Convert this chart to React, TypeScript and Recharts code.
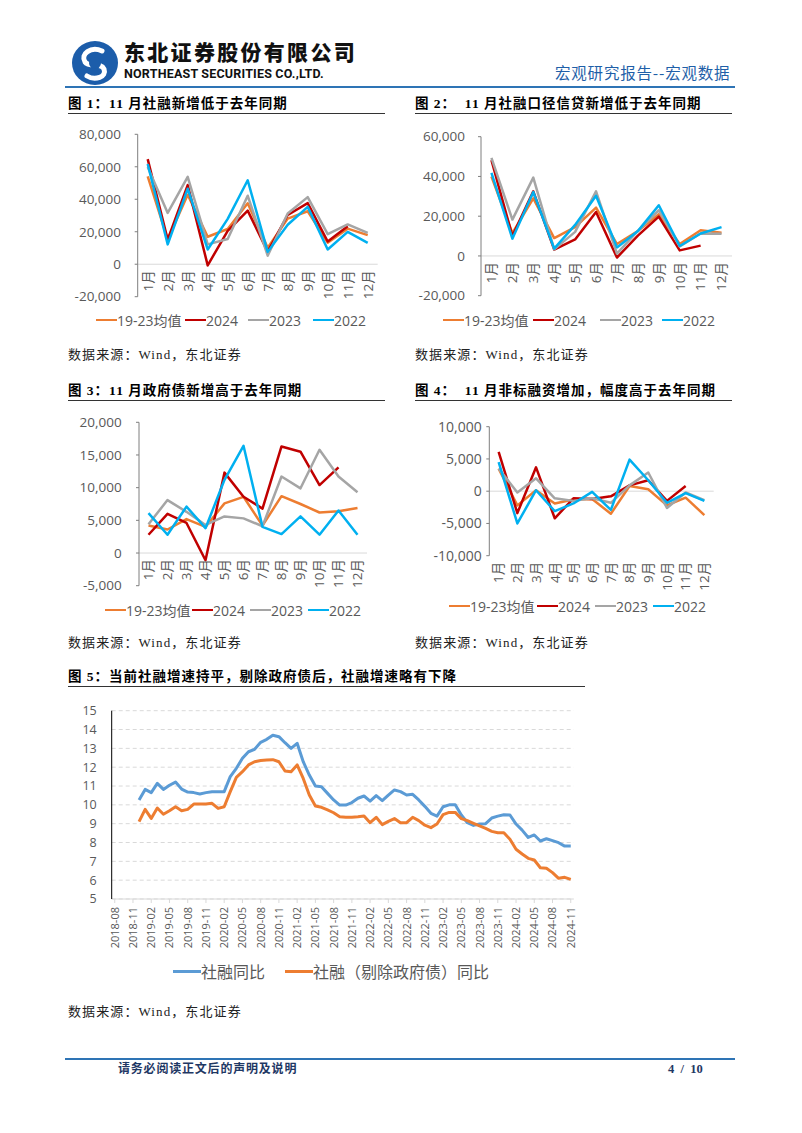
import React from "react";
import {
  LineChart,
  Line,
  XAxis,
  YAxis,
  ReferenceLine,
  ReferenceDot,
  CartesianGrid,
} from "recharts";

// ---- monthly comparison charts (fig 1-4) ----
const MONTHS = ["1月", "2月", "3月", "4月", "5月", "6月", "7月", "8月", "9月", "10月", "11月", "12月"];
const SERIES_NAMES = ["19-23均值", "2024", "2023", "2022"];
const SERIES_COLORS = ["#ED7D31", "#C00000", "#A5A5A5", "#00B0F0"];

// fig 1: 社融新增
const SF_AVG = [54100, 15300, 42800, 16900, 21700, 37500, 10100, 28100, 32600, 13300, 21900, 17900];
const SF_2024 = [64700, 15100, 48700, -700, 20600, 33000, 7700, 30300, 37600, 14000, 23400];
const SF_2023 = [59900, 31600, 53800, 12200, 15500, 42200, 5300, 31200, 41300, 18500, 24500, 19300];
const SF_2022 = [61700, 12200, 46500, 9100, 27900, 51700, 7600, 24300, 35300, 9100, 19900, 13100];

// fig 2: 社融口径信贷
const LOAN_AVG = [40000, 11500, 29000, 9000, 14500, 24300, 6000, 12500, 21000, 6000, 12900, 11700];
const LOAN_2024 = [48200, 10000, 32500, 3200, 8300, 22100, -800, 10200, 19800, 2800, 5200];
const LOAN_2023 = [49300, 18300, 39400, 3300, 12100, 32500, 1200, 12600, 23000, 4800, 11300, 11200];
const LOAN_2022 = [41800, 8700, 32200, 3700, 15600, 30300, 4300, 12500, 25500, 5000, 11300, 14500];

// fig 3: 政府债
const GOV_AVG = [4200, 3600, 5200, 4000, 7600, 8600, 4200, 8700, 7500, 6200, 6400, 6900];
const GOV_2024 = [2800, 6000, 4600, -1100, 12300, 8600, 6800, 16300, 15500, 10400, 13100];
const GOV_2023 = [4400, 8100, 6300, 4300, 5600, 5300, 4100, 11700, 9900, 15800, 11700, 9300];
const GOV_2022 = [6100, 2800, 7100, 3800, 11200, 16400, 4000, 2900, 5600, 2800, 6500, 2800];

// fig 4: 非标融资
const NS_AVG = [3500, -2200, 150, -1900, -1300, -1200, -3500, 800, 300, -2200, -1000, -3700];
const NS_2024 = [6100, -3400, 3700, -4200, -1100, -1200, -800, 900, 1700, -1500, 800];
const NS_2023 = [3500, -200, 2000, -1100, -1500, -1100, -1800, 900, 2900, -2600, -200, -1400];
const NS_2022 = [4500, -5000, 150, -3100, -1900, -100, -2900, 4900, 1700, -1800, -300, -1500];

// ---- fig 5: 社融增速 ----
const YM = [
  "2018-08", "2018-09", "2018-10", "2018-11", "2018-12",
  "2019-01", "2019-02", "2019-03", "2019-04", "2019-05", "2019-06", "2019-07", "2019-08", "2019-09", "2019-10", "2019-11", "2019-12",
  "2020-01", "2020-02", "2020-03", "2020-04", "2020-05", "2020-06", "2020-07", "2020-08", "2020-09", "2020-10", "2020-11", "2020-12",
  "2021-01", "2021-02", "2021-03", "2021-04", "2021-05", "2021-06", "2021-07", "2021-08", "2021-09", "2021-10", "2021-11", "2021-12",
  "2022-01", "2022-02", "2022-03", "2022-04", "2022-05", "2022-06", "2022-07", "2022-08", "2022-09", "2022-10", "2022-11", "2022-12",
  "2023-01", "2023-02", "2023-03", "2023-04", "2023-05", "2023-06", "2023-07", "2023-08", "2023-09", "2023-10", "2023-11", "2023-12",
  "2024-01", "2024-02", "2024-03", "2024-04", "2024-05", "2024-06", "2024-07", "2024-08", "2024-09", "2024-10", "2024-11",
];
const TSF_YOY = [
  null, null, null, null, 10.26,
  10.82, 10.65, 11.14, 10.82, 11.04, 11.21, 10.84, 10.68, 10.65, 10.58, 10.65, 10.7,
  10.7, 10.7, 11.5, 11.94, 12.47, 12.82, 12.95, 13.32, 13.48, 13.7, 13.62, 13.3,
  13.0, 13.27, 12.29, 11.58, 11.0, 10.96, 10.61, 10.26, 9.99, 9.99, 10.12, 10.35,
  10.47, 10.2, 10.49, 10.22, 10.52, 10.79, 10.7, 10.52, 10.56, 10.26, 9.92, 9.55,
  9.4, 9.9, 10.0, 10.0, 9.46, 9.05, 8.91, 8.98, 9.0, 9.3, 9.4, 9.47,
  9.46, 8.98, 8.66, 8.27, 8.4, 8.08, 8.2, 8.1, 7.99, 7.81, 7.81,
];
const TSF_EX_GOV_YOY = [
  null, null, null, null, 9.11,
  9.76, 9.28, 9.83, 9.5, 9.69, 9.9, 9.69, 9.76, 10.04, 10.04, 10.04, 10.08,
  9.81, 9.9, 10.7, 11.46, 11.76, 12.12, 12.29, 12.36, 12.38, 12.4, 12.29, 11.8,
  11.76, 12.12, 11.4, 10.52, 9.94, 9.87, 9.73, 9.58, 9.37, 9.34, 9.34, 9.37,
  9.41, 9.05, 9.34, 8.95, 9.12, 9.27, 9.05, 9.05, 9.34, 9.16, 8.92, 8.79,
  8.98, 9.48, 9.6, 9.6, 9.27, 9.16, 9.02, 8.88, 8.75, 8.59, 8.52, 8.52,
  8.17, 7.64, 7.39, 7.16, 7.07, 6.66, 6.63, 6.4, 6.1, 6.15, 6.04,
];
const Y5_TICKS = [5, 6, 7, 8, 9, 10, 11, 12, 13, 14, 15];

const AXIS_FONT = "'Open Sans', 'Noto Sans CJK SC', sans-serif";
const SERIF = "'Liberation Serif', 'Noto Sans CJK SC', serif";

type Box = { left: number; top: number; width: number; height: number };
type Plot = { l: number; t: number; r: number; b: number };

function MonthChart(props: {
  box: Box;
  plot: Plot;
  domain: [number, number];
  ticks: number[];
  data: (number | undefined)[][];
  atZero: boolean;
  gap: number;
  yFont: number;
}) {
  const { box, plot, domain, ticks, data, atZero, gap, yFont } = props;
  const rows = MONTHS.map((m, i) => {
    const row: Record<string, any> = { m };
    SERIES_NAMES.forEach((n, k) => {
      const v = data[k][i];
      row[n] = v === undefined ? null : v;
    });
    return row;
  });
  const below = box.top + box.height - plot.b;
  const half = (plot.r - plot.l) / MONTHS.length / 2;
  const margin = {
    top: plot.t - box.top,
    right: box.left + box.width - plot.r,
    bottom: atZero ? below : 0,
    left: 0,
  };
  const rot = (x: number, y: number, text: string) => (
    <text
      x={x}
      y={y}
      transform={`rotate(-90 ${x} ${y})`}
      textAnchor="end"
      dy="0.36em"
      fontSize={13.5}
      fill="#595959"
      fontFamily={AXIS_FONT}
    >
      {text}
    </text>
  );
  return (
    <div style={{ position: "absolute", left: box.left, top: box.top }}>
      <LineChart width={box.width} height={box.height} data={rows} margin={margin}>
        <XAxis
          dataKey="m"
          hide={atZero}
          height={atZero ? 0 : below}
          padding={{ left: half, right: half }}
          interval={0}
          axisLine={false}
          tickLine={false}
          tickSize={0}
          tickMargin={6}
          tick={(p: any) => rot(p.x, p.y, p.payload.value)}
        />
        <YAxis
          domain={domain}
          ticks={ticks}
          interval={0}
          width={plot.l - box.left}
          tickSize={3}
          tickMargin={gap - 3}
          axisLine={{ stroke: "#7f7f7f" }}
          tickLine={{ stroke: "#7f7f7f" }}
          tick={{ fill: "#595959", fontSize: yFont, fontFamily: AXIS_FONT }}
          tickFormatter={(v: number) => v.toLocaleString("en-US")}
        />
        <ReferenceLine y={0} stroke="#d9d9d9" strokeWidth={1} />
        {SERIES_NAMES.map((n, k) => (
          <Line
            key={n}
            dataKey={n}
            stroke={SERIES_COLORS[k]}
            strokeWidth={2.5}
            strokeLinejoin="round"
            dot={false}
            isAnimationActive={false}
          />
        ))}
        {atZero &&
          MONTHS.map((m) => (
            <ReferenceDot
              key={m}
              x={m}
              y={0}
              r={1}
              shape={(p: any) => rot(p.cx, p.cy + 6, m)}
            />
          ))}
      </LineChart>
    </div>
  );
}

function MonthLegend({ lefts, top }: { lefts: number[]; top: number }) {
  return (
    <>
      {SERIES_NAMES.map((n, k) => (
        <div
          key={n}
          style={{
            position: "absolute",
            left: lefts[k],
            top: top - 9,
            height: 18,
            display: "flex",
            alignItems: "center",
            fontFamily: AXIS_FONT,
            fontSize: 14,
            color: "#595959",
            whiteSpace: "nowrap",
          }}
        >
          <div style={{ width: 21, height: 2.5, background: SERIES_COLORS[k] }} />
          <span>{n}</span>
        </div>
      ))}
    </>
  );
}

function Title({ left, top, width, text }: { left: number; top: number; width: number; text: string }) {
  return (
    <>
      <div
        style={{
          position: "absolute",
          left,
          top: top - 9,
          height: 18,
          lineHeight: "18px",
          fontFamily: SERIF,
          fontWeight: "bold",
          fontSize: 13.5,
          letterSpacing: 1,
          color: "#000",
          whiteSpace: "pre",
        }}
      >
        {text}
      </div>
      <div style={{ position: "absolute", left, top: top + 9, width, height: 1, background: "#333" }} />
    </>
  );
}

function Source({ left, top }: { left: number; top: number }) {
  return (
    <div
      style={{
        position: "absolute",
        left,
        top: top - 9,
        lineHeight: "18px",
        fontFamily: SERIF,
        fontSize: 13,
        letterSpacing: 1.1,
        color: "#222",
        whiteSpace: "nowrap",
      }}
    >
      数据来源：Wind，东北证券
    </div>
  );
}

function Logo() {
  return (
    <svg style={{ position: "absolute", left: 71, top: 40 }} width={48} height={46}>
      <ellipse cx={24} cy={23} rx={23} ry={22} fill="#1C5DAA" />
      <path d="M31 11 C20 6 9 14 14 22 C18 28 30 22 33 29 C36 37 24 41 16 36" stroke="#fff" strokeWidth={5} fill="none" strokeLinecap="round" />
      <circle cx={24} cy={23} r={6} fill="#1C5DAA" />
    </svg>
  );
}

export default function App() {
  const rows5 = YM.map((m, i) => ({ m, a: TSF_YOY[i], b: TSF_EX_GOV_YOY[i] }));
  const half5 = (573.8 - 111.7) / YM.length / 2;
  return (
    <div
      style={{
        position: "absolute",
        left: 0,
        top: 0,
        width: 802,
        height: 1133,
        background: "#fff",
        overflow: "hidden",
        fontFamily: "'Noto Sans CJK SC', sans-serif",
      }}
    >
      {/* header */}
      <Logo />
      <div
        style={{
          position: "absolute",
          left: 124,
          top: 40,
          fontSize: 21,
          fontWeight: 900,
          letterSpacing: 2.3,
          lineHeight: "23px",
          color: "#111",
          fontFamily: "'Noto Sans CJK SC', sans-serif",
          whiteSpace: "nowrap",
        }}
      >
        东北证券股份有限公司
      </div>
      <div
        style={{
          position: "absolute",
          left: 124,
          top: 68,
          fontSize: 12.5,
          fontWeight: "bold",
          lineHeight: "12px",
          color: "#111",
          fontFamily: "Roboto, sans-serif",
          letterSpacing: 0.2,
          whiteSpace: "nowrap",
        }}
      >
        NORTHEAST SECURITIES CO.,LTD.
      </div>
      <div
        style={{
          position: "absolute",
          left: 555,
          top: 62,
          fontSize: 15.5,
          lineHeight: "20px",
          letterSpacing: 0.8,
          color: "#1F5FA8",
          fontFamily: "'Noto Sans CJK SC', sans-serif",
        }}
      >
        宏观研究报告--宏观数据
      </div>
      <div style={{ position: "absolute", left: 65, top: 86, width: 670, height: 1.5, background: "#2E74B5" }} />

      {/* fig 1 & 2 */}
      <Title left={68} top={104} width={317} text={"图 1：11 月社融新增低于去年同期"} />
      <Title left={415} top={104} width={317} text={"图 2：  11 月社融口径信贷新增低于去年同期"} />
      <MonthChart
        box={{ left: 60, top: 118, width: 330, height: 195 }}
        plot={{ l: 137.7, t: 134.3, r: 377.7, b: 296.7 }}
        domain={[-20000, 80000]}
        ticks={[-20000, 0, 20000, 40000, 60000, 80000]}
        data={[SF_AVG, SF_2024, SF_2023, SF_2022]}
        atZero
        gap={16.7}
        yFont={13.5}
      />
      <MonthLegend lefts={[96, 185, 248, 313]} top={320} />
      <MonthChart
        box={{ left: 400, top: 118, width: 340, height: 195 }}
        plot={{ l: 481, t: 136.7, r: 732, b: 295.7 }}
        domain={[-20000, 60000]}
        ticks={[-20000, 0, 20000, 40000, 60000]}
        data={[LOAN_AVG, LOAN_2024, LOAN_2023, LOAN_2022]}
        atZero
        gap={16}
        yFont={13.5}
      />
      <MonthLegend lefts={[443, 533, 600, 662]} top={320} />
      <Source left={68} top={355} />
      <Source left={415} top={355} />

      {/* fig 3 & 4 */}
      <Title left={68} top={391} width={317} text={"图 3：11 月政府债新增高于去年同期"} />
      <Title left={415} top={391} width={317} text={"图 4：  11 月非标融资增加，幅度高于去年同期"} />
      <MonthChart
        box={{ left: 60, top: 405, width: 330, height: 195 }}
        plot={{ l: 139, t: 422.3, r: 367, b: 585.7 }}
        domain={[-5000, 20000]}
        ticks={[-5000, 0, 5000, 10000, 15000, 20000]}
        data={[GOV_AVG, GOV_2024, GOV_2023, GOV_2022]}
        atZero
        gap={17.3}
        yFont={13.5}
      />
      <MonthLegend lefts={[105, 192, 250, 308]} top={610} />
      <MonthChart
        box={{ left: 400, top: 410, width: 340, height: 185 }}
        plot={{ l: 489.3, t: 426.7, r: 713.7, b: 555.7 }}
        domain={[-10000, 10000]}
        ticks={[-10000, -5000, 0, 5000, 10000]}
        data={[NS_AVG, NS_2024, NS_2023, NS_2022]}
        atZero={false}
        gap={7.6}
        yFont={14}
      />
      <MonthLegend lefts={[449, 537, 595, 653]} top={606} />
      <Source left={68} top={643} />
      <Source left={415} top={643} />

      {/* fig 5 */}
      <Title left={68} top={677} width={517} text={"图 5：当前社融增速持平，剔除政府债后，社融增速略有下降"} />
      <div style={{ position: "absolute", left: 60, top: 700 }}>
        <LineChart
          width={530}
          height={260}
          data={rows5}
          margin={{ top: 10.7, right: 16.2, bottom: 0, left: 0 }}
        >
          <CartesianGrid vertical={false} stroke="#d9d9d9" strokeDasharray="4 3" />
          <XAxis
            dataKey="m"
            interval={2}
            height={61}
            padding={{ left: half5, right: half5 }}
            tickSize={4}
            tickMargin={4}
            axisLine={{ stroke: "#d9d9d9" }}
            tickLine={{ stroke: "#d9d9d9" }}
            tick={(p: any) => (
              <text
                x={p.x}
                y={p.y}
                transform={`rotate(-90 ${p.x} ${p.y})`}
                textAnchor="end"
                dy="0.36em"
                fontSize={11}
                fill="#595959"
                fontFamily={AXIS_FONT}
              >
                {p.payload.value}
              </text>
            )}
          />
          <YAxis
            domain={[5, 15]}
            ticks={Y5_TICKS}
            interval={0}
            width={51.7}
            tickLine={false}
            tickSize={6}
            tickMargin={9}
            axisLine={{ stroke: "#000" }}
            tick={{ fill: "#595959", fontSize: 12.5, fontFamily: AXIS_FONT }}
          />
          <Line dataKey="a" stroke="#5B9BD5" strokeWidth={3} strokeLinejoin="round" dot={false} isAnimationActive={false} />
          <Line dataKey="b" stroke="#ED7D31" strokeWidth={3} strokeLinejoin="round" dot={false} isAnimationActive={false} />
        </LineChart>
      </div>
      <div
        style={{
          position: "absolute",
          left: 173,
          top: 961,
          height: 20,
          display: "flex",
          alignItems: "center",
          fontFamily: AXIS_FONT,
          fontSize: 16,
          color: "#595959",
          whiteSpace: "nowrap",
        }}
      >
        <div style={{ width: 28, height: 3, background: "#5B9BD5" }} />
        <span>社融同比</span>
        <div style={{ width: 28, height: 3, background: "#ED7D31", marginLeft: 20 }} />
        <span>社融（剔除政府债）同比</span>
      </div>
      <Source left={68} top={1012} />

      {/* footer */}
      <div style={{ position: "absolute", left: 65, top: 1058, width: 670, height: 1.5, background: "#2E74B5" }} />
      <div
        style={{
          position: "absolute",
          left: 118,
          top: 1060,
          lineHeight: "18px",
          fontSize: 12,
          fontWeight: "bold",
          letterSpacing: 0.8,
          color: "#1F3864",
          fontFamily: SERIF,
        }}
      >
        请务必阅读正文后的声明及说明
      </div>
      <div
        style={{
          position: "absolute",
          left: 668,
          top: 1060,
          lineHeight: "18px",
          fontSize: 12.5,
          fontWeight: "bold",
          color: "#1F3864",
          fontFamily: SERIF,
          whiteSpace: "pre",
        }}
      >
        {"4  /  10"}
      </div>
    </div>
  );
}
